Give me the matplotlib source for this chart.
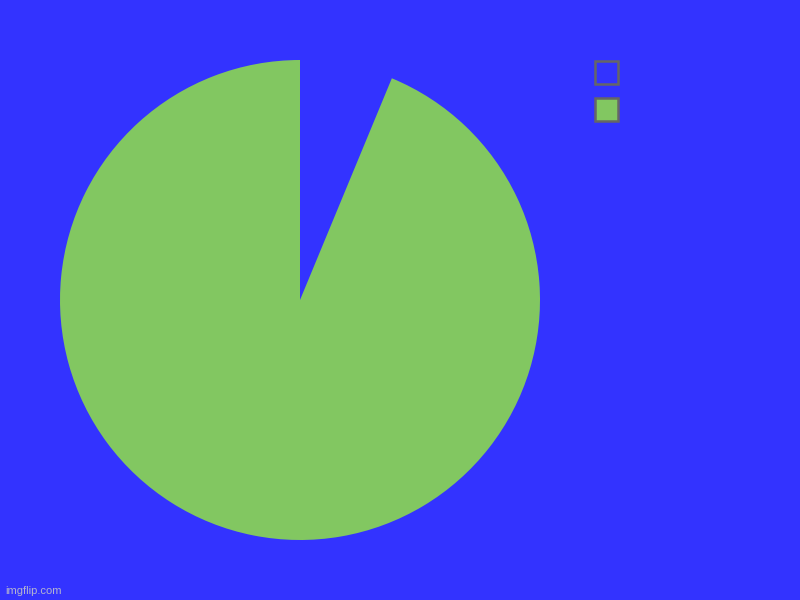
import matplotlib.pyplot as plt
from matplotlib.patches import Rectangle

# slice data (labels are empty in the source chart)
labels = ["", ""]
values = [1, 15]
colors = ["#3333ff", "#82c761"]
bg = "#3333ff"

fig = plt.figure(figsize=(8, 6), dpi=100, facecolor=bg)
ax = fig.add_axes([60 / 800, 60 / 600, 480 / 800, 480 / 600])
ax.set_facecolor(bg)
wedges, _ = ax.pie(values, labels=labels, colors=colors, startangle=90,
                   counterclock=False, radius=1.0,
                   wedgeprops=dict(linewidth=0))
ax.set_xlim(-1, 1)
ax.set_ylim(-1, 1)
ax.set_aspect("equal")
ax.axis("off")

# legend boxes, top right
for i, w in enumerate(wedges):
    y0 = 1 - (84 + i * 37) / 600
    fig.add_artist(Rectangle((595 / 800, y0), 23 / 800, 23 / 600,
                             transform=fig.transFigure,
                             facecolor=w.get_facecolor(),
                             edgecolor="#666666", linewidth=1.8))

fig.text(5 / 800, 1 - 591 / 600, "imgflip.com", color="#b4b4d0",
         fontsize=8, va="center", ha="left", family="Liberation Sans")

fig.savefig("out.png", dpi=100, facecolor=bg)
